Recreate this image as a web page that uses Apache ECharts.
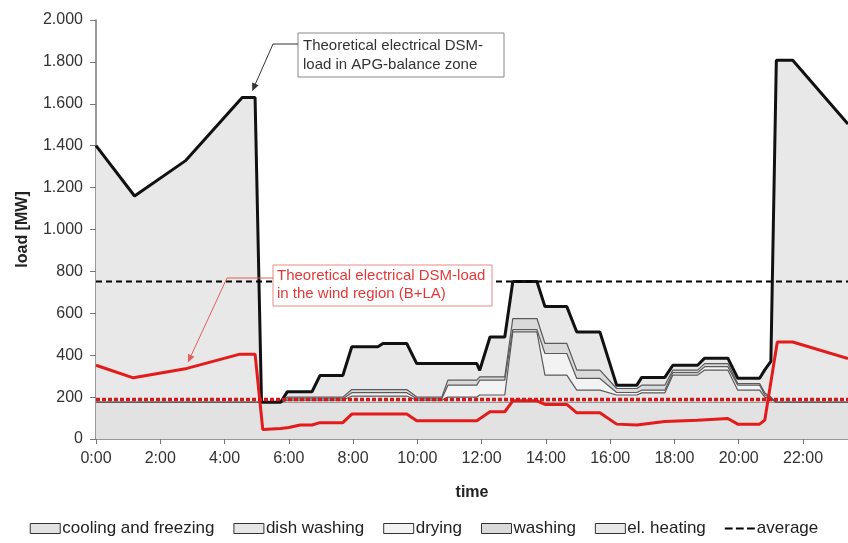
<!DOCTYPE html>
<html><head><meta charset="utf-8">
<script src="https://cdn.jsdelivr.net/npm/echarts@6/dist/echarts.min.js"></script>
<style>html,body{margin:0;padding:0;background:#fff}#c{width:848px;height:543px}</style>
</head><body><div id="c"></div>
<script>
// time in hours
const hours = [0, 1.2, 2.8, 4.55, 4.95, 5.15, 5.75, 5.95, 6.72, 6.97, 7.68, 7.96, 8.77, 8.93, 9.67, 9.98, 10.76, 10.95, 11.85, 11.94, 12.26, 12.72, 12.97, 13.72, 13.97, 14.65, 14.96, 15.68, 16.2, 16.83, 16.98, 17.7, 17.95, 18.72, 18.94, 19.66, 19.97, 20.65, 20.81, 21.0, 21.17, 21.68, 23.4];
const cooling     = [175,175,175,175,175,175,175,175,175,175,175,175,175,175,175,175,175,175,175,175,175,175,175,175,175,175,175,175,175,175,175,175,175,175,175,175,175,175,175,175,175,175,175];
const dishWashing = [0,0,0,0,0,0,0,10,10,10,10,30,30,30,30,10,10,25,25,35,35,35,336,336,130,130,58,58,35,35,45,45,130,130,154,154,58,58,25,15,0,0,0];
const drying      = [0,0,0,0,0,0,0,7,7,7,7,16,16,16,16,7,7,57,57,71,71,71,11,11,103,103,56,56,12,12,13,13,12,12,16,16,24,24,10,5,0,0,0];
const washing     = [0,0,0,0,0,0,0,8,8,8,8,15,15,15,15,8,8,24,24,16,16,16,53,53,48,48,40,40,19,19,24,24,12,12,15,15,8,8,10,5,0,0,0];
const elHeating   = [1225,985,1155,1455,1455,1,1,25,25,103,103,204,204,220,220,160,160,79,79,31,190,190,177,177,176,176,182,182,16,16,37,37,23,23,26,26,25,25,110,170,1633,1633,1328];

// wind region (B+LA)
const windHours = [0, 1.16, 2.83, 4.48, 4.95, 5.19, 5.75, 6.0, 6.35, 6.72, 6.97, 7.68, 7.96, 9.67, 9.98, 11.85, 12.26, 12.72, 12.97, 13.72, 13.97, 14.65, 14.96, 15.68, 16.2, 16.83, 17.7, 18.72, 19.66, 19.97, 20.65, 20.81, 21.2, 21.68, 23.4];
const windLoad  = [352, 292, 337, 405, 405, 45, 50, 55, 67, 67, 78, 78, 119, 119, 87, 87, 130, 130, 182, 182, 165, 165, 125, 125, 71, 67, 83, 90, 98, 71, 71, 90, 463, 463, 384];

const averageTotal = 752;
const averageWind = 188;
const xRange = [0, 23.4];
const seriesNames = ['cooling and freezing', 'dish washing', 'drying', 'washing', 'el. heating'];

const chart = echarts.init(document.getElementById('c'), null, {renderer: 'canvas'});
const FONT = '"Liberation Sans", Arial, sans-serif';
const layers = [cooling, dishWashing, drying, washing, elHeating];
const fills = ['#e2e2e2', '#e6e6e6', '#f3f3f3', '#dadada', '#e8e8e8'];
const lineCols = ['#8a8a8a', '#5a5a5a', '#5a5a5a', '#5a5a5a', '#111'];
const lineWidths = [1, 1.2, 1.2, 1.2, 3];

// cumulative levels (stack built by hand)
const cumulative = [];
let run = hours.map(() => 0);
layers.forEach(arr => { run = run.map((v, k) => v + arr[k]); cumulative.push(run.slice()); });

const series = [];
cumulative.forEach((cum, i) => {
  series.push({
    name: seriesNames[i], type: 'line', symbol: 'none',
    data: hours.map((h, k) => [h, cum[k]]),
    lineStyle: {width: 0, color: fills[i]},
    itemStyle: {color: fills[i]},
    areaStyle: {color: fills[i], opacity: 1},
    z: 2 + (layers.length - i) * 0.1
  });
});
cumulative.forEach((cum, i) => {
  series.push({
    name: seriesNames[i] + ' line', type: 'line', symbol: 'none',
    data: hours.map((h, k) => [h, cum[k]]),
    lineStyle: {color: lineCols[i], width: lineWidths[i]},
    z: 4 + i * 0.1
  });
});
series.push({
  name: 'wind', type: 'line', symbol: 'none', z: 10,
  data: windHours.map((h, k) => [h, windLoad[k]]),
  lineStyle: {color: '#e31b1b', width: 3}
});
series.push({
  name: 'average', type: 'line', symbol: 'none', z: 11,
  data: [[xRange[0], averageTotal], [xRange[1], averageTotal]],
  lineStyle: {color: '#000', width: 2, type: [6, 4]}, itemStyle: {color: '#000'}
});
series.push({
  name: 'windAvg', type: 'line', symbol: 'none', z: 11,
  data: [[xRange[0], averageWind], [xRange[1], averageWind]],
  lineStyle: {color: '#d11a1a', width: 3.5, type: [4, 2]}
});

const legendData = seriesNames.map((n, i) => ({
  name: n, icon: 'rect',
  itemStyle: {color: fills[i], borderColor: '#333', borderWidth: 1}
}));
legendData.push({name: 'average', icon: 'path://M0,0L7,0L7,2L0,2Z M10,0L17,0L17,2L10,2Z M20,0L27,0L27,2L20,2Z', itemStyle: {color: '#000'}});

function fmtY(v) {
  if (v >= 1000) { const r = String(v % 1000).padStart(3, '0'); return Math.floor(v / 1000) + '.' + r; }
  return String(v);
}

chart.setOption({
  animation: false,
  backgroundColor: '#fff',
  grid: {left: 96, right: 0, top: 20, bottom: 104},
  legend: {
    data: legendData, bottom: 1, left: 'center', itemWidth: 30, itemHeight: 10, itemGap: 19,
    textStyle: {fontFamily: FONT, fontSize: 17, color: '#222', padding: [0, 0, 0, -3]}
  },
  xAxis: {
    type: 'value', min: xRange[0], max: xRange[1], interval: 2,
    name: 'time', nameLocation: 'middle', nameGap: 46,
    nameTextStyle: {fontFamily: FONT, fontSize: 16, fontWeight: 'bold', color: '#222'},
    axisLine: {lineStyle: {color: '#777', width: 1.5}},
    axisTick: {length: 5, lineStyle: {color: '#777'}},
    splitLine: {show: false},
    axisLabel: {fontFamily: FONT, fontSize: 16, color: '#333', margin: 12,
      formatter: v => (v >= 24 ? '' : Math.round(v) + ':00'), showMaxLabel: false}
  },
  yAxis: {
    type: 'value', min: 0, max: 2000, interval: 200,
    name: 'load [MW]', nameLocation: 'middle', nameGap: 65, nameRotate: 90,
    nameTextStyle: {fontFamily: FONT, fontSize: 16, fontWeight: 'bold', color: '#222'},
    axisLine: {show: true, lineStyle: {color: '#777', width: 1.5}},
    axisTick: {show: true, length: 6, lineStyle: {color: '#777'}},
    splitLine: {show: false},
    axisLabel: {fontFamily: FONT, fontSize: 16, color: '#333', margin: 13, formatter: fmtY}
  },
  series: series
});

function arrow(from, mid, tip, color, width) {
  const dx = tip[0] - mid[0], dy = tip[1] - mid[1];
  const len = Math.sqrt(dx * dx + dy * dy);
  const ux = dx / len, uy = dy / len;
  const L = 8, W = 3.5;
  const bx = tip[0] - ux * L, by = tip[1] - uy * L;
  return [
    {type: 'polyline', z: 50, shape: {points: [from, mid, [bx, by]]}, style: {stroke: color, lineWidth: width, fill: null}},
    {type: 'polygon', z: 50, shape: {points: [tip, [bx - uy * W, by + ux * W], [bx + uy * W, by - ux * W]]}, style: {fill: color}}
  ];
}

const tipBlack = chart.convertToPixel({gridIndex: 0}, [4.86, 1660]);
const tipRed = chart.convertToPixel({gridIndex: 0}, [2.86, 365]);

const g = [];
g.push({type: 'rect', z: 49, shape: {x: 298, y: 33, width: 206, height: 44}, style: {fill: '#fff', stroke: '#888', lineWidth: 1}});
g.push({type: 'text', z: 51, left: 303, top: 36, style: {text: 'Theoretical electrical DSM-\nload in APG-balance zone', font: '15px ' + FONT, fill: '#333', lineHeight: 19}});
g.push(...arrow([298, 44], [273, 44], tipBlack, '#333', 1));
g.push({type: 'rect', z: 49, shape: {x: 273, y: 265, width: 219, height: 41}, style: {fill: '#fff', stroke: '#e58c8c', lineWidth: 1}});
g.push({type: 'text', z: 51, left: 277, top: 267, style: {text: 'Theoretical electrical DSM-load\nin the wind region (B+LA)', font: '15px ' + FONT, fill: '#e23a3a', lineHeight: 18}});
g.push(...arrow([273, 278], [227, 278], tipRed, '#e06060', 1));
chart.setOption({graphic: g});
</script></body></html>
